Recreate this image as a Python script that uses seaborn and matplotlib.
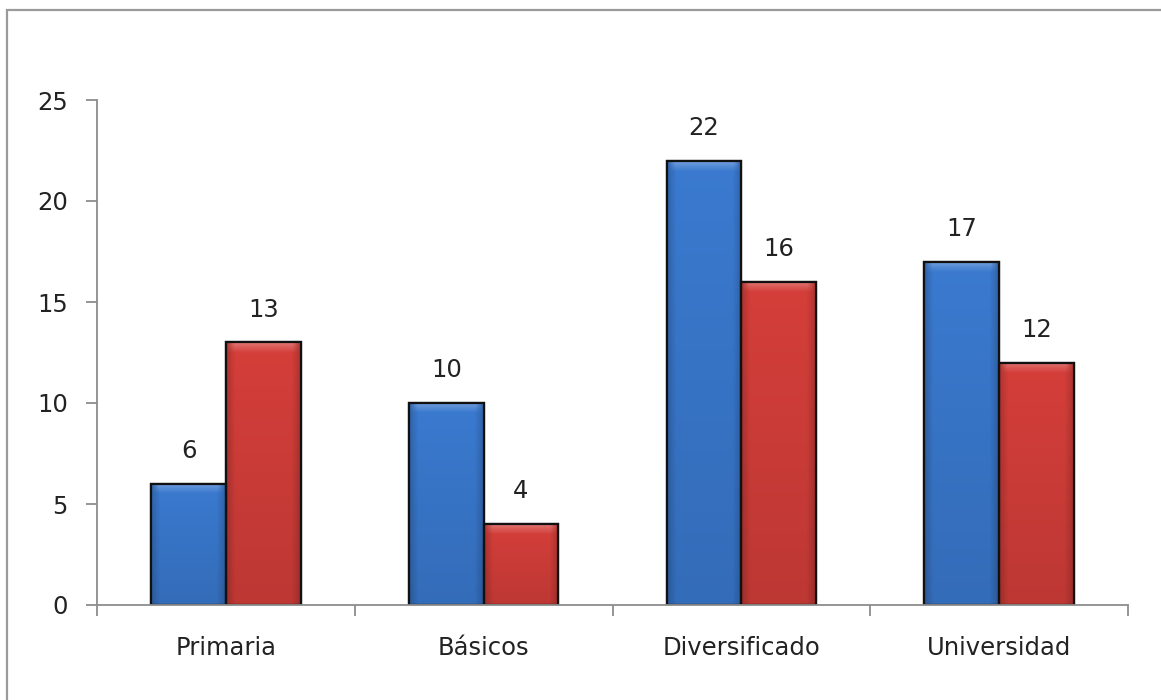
import matplotlib
matplotlib.use("Agg")
import matplotlib.pyplot as plt
import seaborn as sns
import numpy as np
import pandas as pd
from matplotlib.patches import Rectangle
from matplotlib.ticker import FixedLocator
from matplotlib.colors import to_rgb

# Education level counts for two groups
categories = ["Primaria", "Básicos", "Diversificado", "Universidad"]
group_a = [6, 10, 22, 17]
group_b = [13, 4, 16, 12]
y_ticks = [0, 5, 10, 15, 20, 25]

df = pd.DataFrame({
    "nivel": categories * 2,
    "valor": group_a + group_b,
    "grupo": ["A"] * len(categories) + ["B"] * len(categories),
})

sns.set_theme(style="white")
plt.rcParams["font.family"] = ["DejaVu Sans"]

fig = plt.figure(figsize=(11.61, 7.0), dpi=100)
ax = fig.add_axes([97 / 1161, 1 - 605 / 700, (1128 - 97) / 1161, (605 - 100) / 700])

palette = {"A": "#3773c4", "B": "#c93b37"}
sns.barplot(data=df, x="nivel", y="valor", hue="grupo", palette=palette,
            width=0.58, dodge=True, gap=0, saturation=1,
            edgecolor="#111111", linewidth=1.6, legend=False, ax=ax)

ax.set_xlim(-0.5, len(categories) - 0.5)
ax.set_ylim(0, 25)


def shade_bar(bar):
    """Paint a soft bevel over a bar: lighter top edge, darker sides."""
    base = np.array(to_rgb(bar.get_facecolor()))
    x0, y0 = bar.get_x(), bar.get_y()
    w, h = bar.get_width(), bar.get_height()
    ny, nx = 200, 60
    xs = np.linspace(0, 1, nx)
    ys = np.linspace(0, 1, ny)  # 0 = top row
    side = 1 - 0.18 * np.clip(1 - np.minimum(xs, 1 - xs) / 0.12, 0, 1)
    vert = 1.06 - 0.12 * ys
    shade = vert[:, None] * side[None, :]
    img = np.clip(base[None, None, :] * shade[..., None], 0, 1)
    # light bevel strip just below the top edge
    top_px = 10.0 / (ax.transData.transform((0, h))[1] - ax.transData.transform((0, 0))[1])
    band = np.clip(1 - ys / max(top_px, 1e-3), 0, 1)[:, None] * \
        np.clip(np.minimum(xs, 1 - xs) / 0.1, 0, 1)[None, :]
    img = img + (1 - img) * 0.28 * band[..., None]
    im = ax.imshow(img, extent=(x0, x0 + w, y0, y0 + h), aspect="auto",
                   origin="upper", zorder=bar.get_zorder() + 0.1, interpolation="bilinear")
    im.set_clip_path(bar)
    edge = Rectangle((x0, y0), w, h, fill=False, edgecolor="#111111",
                     linewidth=1.6, zorder=bar.get_zorder() + 0.2)
    ax.add_patch(edge)


for container in ax.containers:
    for bar in container:
        shade_bar(bar)
    ax.bar_label(container, fmt="%d", padding=15, fontsize=17.5, color="#222222")

ax.set_xlim(-0.5, len(categories) - 0.5)
ax.set_ylim(0, 25)
ax.set_yticks(y_ticks)
ax.set_xlabel("")
ax.set_ylabel("")

# category separators as outward ticks on the x axis
ax.xaxis.set_minor_locator(FixedLocator([i - 0.5 for i in range(len(categories) + 1)]))
ax.tick_params(axis="x", which="major", length=0, pad=22, labelsize=17.5, labelcolor="#222222")
ax.tick_params(axis="x", which="minor", length=8, width=1.3, color="#8c8c8c", direction="out", bottom=True)
ax.tick_params(axis="y", length=8, width=1.3, color="#8c8c8c", direction="out", left=True,
               pad=13, labelsize=17.5, labelcolor="#222222")

for side in ["top", "right"]:
    ax.spines[side].set_visible(False)
for side in ["left", "bottom"]:
    ax.spines[side].set_color("#8c8c8c")
    ax.spines[side].set_linewidth(1.3)

# outer chart frame
fig.patches.append(Rectangle((7 / 1161, -0.05), 1.1, 1 - 10 / 700 + 0.05,
                             transform=fig.transFigure, fill=False,
                             edgecolor="#9a9a9a", linewidth=1.6))

fig.savefig("out.png", dpi=100)
